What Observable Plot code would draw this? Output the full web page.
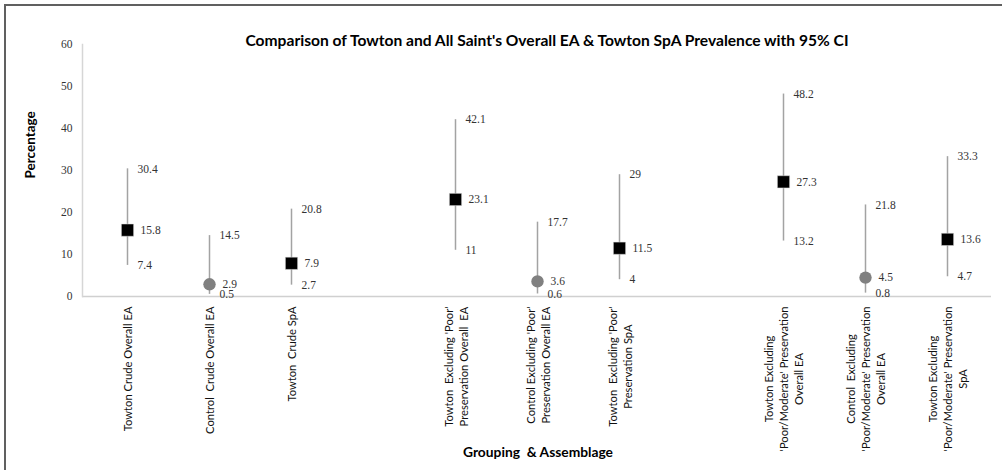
<!DOCTYPE html>
<html><head><meta charset="utf-8">
<script src="https://cdn.jsdelivr.net/npm/d3@7"></script>
<script src="https://cdn.jsdelivr.net/npm/@observablehq/plot@0.6"></script>
<style>
html,body{margin:0;padding:0;background:#fff;overflow:hidden;}
#wrap{position:relative;width:1002px;height:470px;overflow:hidden;background:#fff;}
#bl{position:absolute;left:4px;top:4px;width:2px;height:470px;background:#606060;z-index:2;}
#bt{position:absolute;left:4px;top:4px;width:1000px;height:2px;background:#606060;z-index:2;}
#chart{position:absolute;left:0;top:0;z-index:1;}
#chart svg text{white-space:pre;}
</style></head><body>
<div id="wrap"><div id="chart"></div><div id="bl"></div><div id="bt"></div></div>
<script>
// ---- data ----
const categories = [
  "Towton Crude Overall EA",
  "Control  Crude Overall EA",
  "Towton  Crude SpA",
  "Towton  Excluding 'Poor'\nPreservation Overall  EA",
  "Control Excluding 'Poor'\nPreservation Overall EA",
  "Towton  Excluding 'Poor'\nPreservation SpA",
  "Towton Excluding\n'Poor/Moderate' Preservation\nOverall EA",
  "Control  Excluding\n'Poor/Moderate' Preservation\nOverall EA",
  "Towton Excluding\n'Poor/Moderate' Preservation\nSpA"
];
const groups = ["Crude","Crude","Crude","Excl Poor","Excl Poor","Excl Poor","Excl Poor/Moderate","Excl Poor/Moderate","Excl Poor/Moderate"];
const assemblage = ["Towton","Control","Towton","Towton","Control","Towton","Towton","Control","Towton"];
const estimate = [15.8, 2.9, 7.9, 23.1, 3.6, 11.5, 27.3, 4.5, 13.6];
const lower = [7.4, 0.5, 2.7, 11, 0.6, 4, 13.2, 0.8, 4.7];
const upper = [30.4, 14.5, 20.8, 42.1, 17.7, 29, 48.2, 21.8, 33.3];
const yTicks = [0, 10, 20, 30, 40, 50, 60];
const title = "Comparison of Towton and All Saint's Overall EA & Towton SpA Prevalence with 95% CI";
const yLabel = "Percentage";
const xLabel = "Grouping  & Assemblage";

// ---- build table ----
const rows = categories.map((c, i) => ({
  key: c, group: groups[i], who: assemblage[i],
  est: estimate[i], lo: lower[i], hi: upper[i]
}));
const domain = [];
rows.forEach((r, i) => {
  if (i > 0 && groups[i] !== groups[i - 1]) domain.push("gap-" + i);
  domain.push(r.key);
});

const serif = "'Liberation Serif','Times New Roman',serif";
const sans = "Lato, 'Open Sans', sans-serif";
const textCol = "#333";

const chart = Plot.plot({
  width: 1002,
  height: 470,
  marginLeft: 82,
  marginRight: 11,
  marginTop: 44,
  marginBottom: 174,
  style: {background: "transparent", overflow: "visible"},
  x: {type: "band", domain, padding: 0},
  y: {domain: [0, 60]},
  marks: [
    Plot.ruleY([0], {stroke: "#d0d0d0", strokeWidth: 1.5}),
    Plot.frame({anchor: "left", stroke: "#d6d6d6", strokeWidth: 1.5}),
    Plot.axisY({ticks: yTicks, tickSize: 0, tickPadding: 10, label: null,
      fontFamily: serif, fontSize: 11.5, color: textCol}),
    Plot.axisX({tickSize: 0, tickPadding: 10, tickRotate: -90, label: null, lineHeight: 1.35,
      tickFormat: d => d.startsWith("gap-") ? "" : d,
      fontFamily: sans, fontSize: 11.2, color: "#111"}),
    Plot.ruleX(rows, {x: "key", y1: "lo", y2: "hi", stroke: "#a3a3a3", strokeWidth: 1.5}),
    Plot.dot(rows.filter(d => d.who === "Towton"), {x: "key", y: "est", symbol: "square", r: 6.9, fill: "#000", stroke: "#ddd", strokeWidth: 0.5}),
    Plot.dot(rows.filter(d => d.who === "Control"), {x: "key", y: "est", r: 6.2, fill: "#808080"}),
    Plot.text(rows, {x: "key", y: "hi", text: d => String(d.hi), dx: 10, textAnchor: "start", fontFamily: serif, fontSize: 11.5, fill: textCol}),
    Plot.text(rows, {x: "key", y: "lo", text: d => String(d.lo), dx: 10, textAnchor: "start", fontFamily: serif, fontSize: 11.5, fill: textCol}),
    Plot.text(rows, {x: "key", y: "est", text: d => String(d.est), dx: 13, textAnchor: "start", fontFamily: serif, fontSize: 11.5, fill: textCol}),
    Plot.text([title], {frameAnchor: "top", dx: 10, dy: -10, fontFamily: sans, fontWeight: "bold", fontSize: 15.6, fill: "#000"}),
    Plot.text([yLabel], {frameAnchor: "left", rotate: -90, dx: -52, dy: 8, fontFamily: sans, fontWeight: "bold", fontSize: 13.5, fill: "#000"}),
    Plot.text([xLabel], {frameAnchor: "bottom", dx: 1, dy: 160, fontFamily: sans, fontWeight: "bold", fontSize: 13.8, fill: "#000"})
  ]
});
document.getElementById("chart").appendChild(chart);

// center multi-line rotated tick labels as a block hanging below the axis
const tickGroup = chart.querySelector('g[aria-label="x-axis tick label"]');
if (tickGroup) {
  tickGroup.querySelectorAll("text").forEach(t => {
    const spans = t.querySelectorAll("tspan");
    const parts = spans.length ? Array.from(spans) : [t];
    let max = 0;
    parts.forEach(p => { max = Math.max(max, p.getComputedTextLength()); });
    t.setAttribute("text-anchor", "middle");
    parts.forEach(p => p.setAttribute("x", -max / 2));
  });
}
</script>
</body></html>
